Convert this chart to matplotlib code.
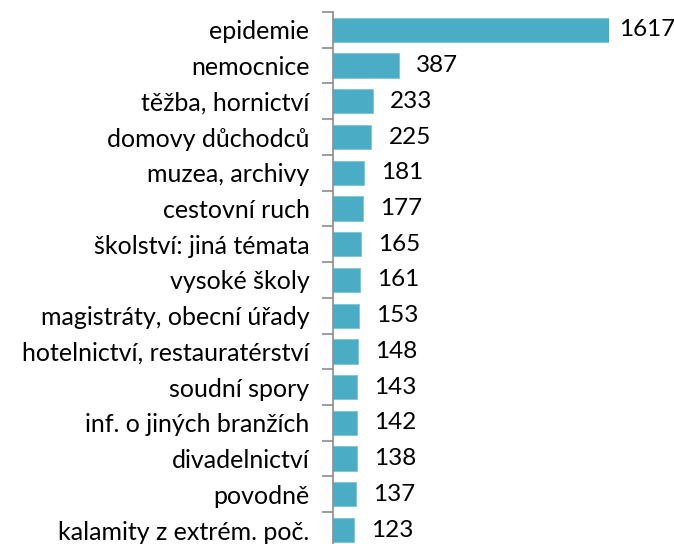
import numpy as np
import matplotlib.pyplot as plt

categories = ["epidemie", "nemocnice", "těžba, hornictví", "domovy důchodců",
              "muzea, archivy", "cestovní ruch", "školství: jiná témata",
              "vysoké školy", "magistráty, obecní úřady",
              "hotelnictví, restauratérství", "soudní spory",
              "inf. o jiných branžích", "divadelnictví", "povodně",
              "kalamity z extrém. poč."]
values = [1617, 387, 233, 225, 181, 177, 165, 161, 153, 148, 143, 142, 138, 137, 123]

plt.rcParams['font.family'] = ['Lato', 'DejaVu Sans']

W, H = 674, 544
fig = plt.figure(figsize=(W / 100, H / 100), dpi=100)
ax = fig.add_axes([333 / W, 0, 276 / W, 1 - 12 / H])

y = np.arange(len(categories))
ax.barh(y, values, height=0.68, color='#4BACC6', edgecolor='#7cc4d8', linewidth=0.6)

ax.set_xlim(0, max(values))
ax.set_ylim(14.39, -0.5)

# value labels just beyond each bar, kept inside the figure
px = max(values) / 276
for yi, v in zip(y, values):
    xpos = min(v + 17 * px, (W - 55 - 333) * px)
    ax.text(xpos, yi, str(v), va='center', ha='left', fontsize=17.5, color='black',
            clip_on=False)

# ticks on category boundaries, labels at centres
ax.set_yticks(np.arange(-0.5, len(categories) - 0.5, 1))
ax.set_yticklabels([])
ax.set_yticks(y, minor=True)
ax.set_yticklabels(categories, minor=True, fontsize=18)
ax.tick_params(axis='y', which='major', length=8, width=1.2, color='#8c8c8c', direction='out')
ax.tick_params(axis='y', which='minor', length=0, pad=17)
ax.set_xticks([])

for s in ['top', 'right', 'bottom']:
    ax.spines[s].set_visible(False)
ax.spines['left'].set_color('#8c8c8c')
ax.spines['left'].set_linewidth(1.2)

fig.savefig('out.png', dpi=100)
